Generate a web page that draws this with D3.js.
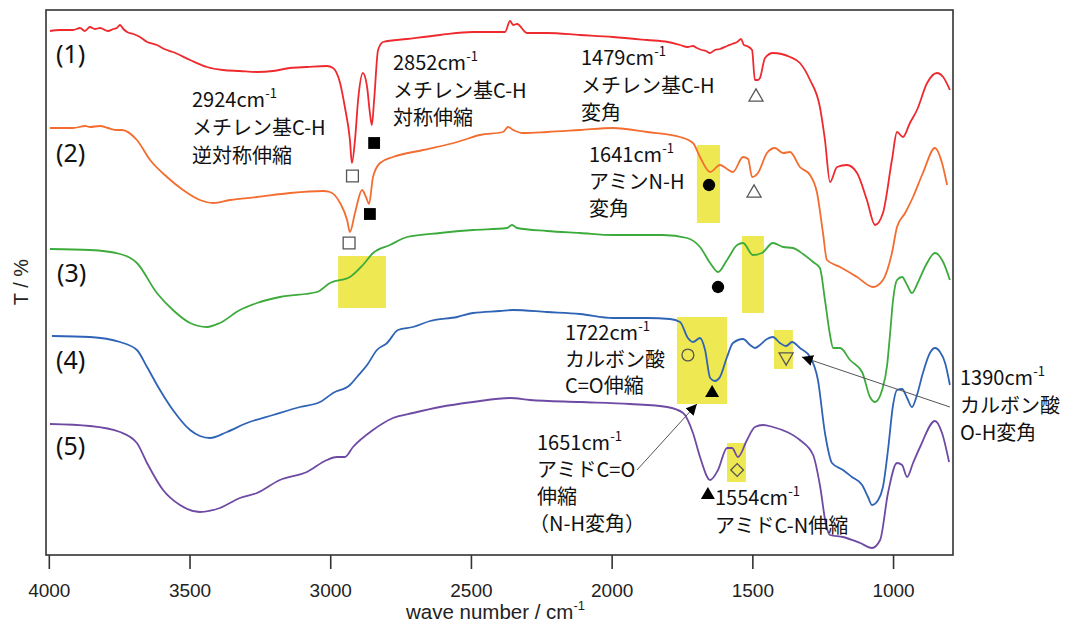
<!DOCTYPE html>
<html><head><meta charset="utf-8">
<script src="https://cdn.jsdelivr.net/npm/d3@7"></script>
<style>body{margin:0;background:#fff} svg{display:block}</style>
</head><body><svg id="c" width="1072" height="625"></svg>
<script>
// ---------------- data ----------------
const xTicks = [4000, 3500, 3000, 2500, 2000, 1500, 1000];
const seriesNames = ["(1)", "(2)", "(3)", "(4)", "(5)"];
// [wavenumber (cm-1), transmittance with vertical offset (a.u.)]
const s1 = [[3996,524],[3960,525],[3914,525],[3889,527],[3872,524],[3854,528],[3836,526],[3818,527],[3790,524],[3770,526],[3758,527],[3747,530],[3735,526],[3722,523],[3700,521],[3676,518],[3650,513],[3616,510],[3590,506],[3559,503],[3498,495],[3438,488],[3381,485],[3321,484],[3260,483],[3203,484],[3143,487],[3083,488],[3012,489],[2990,487],[2965,472],[2948,448],[2930,415],[2923,392],[2912,415],[2901,455],[2884,482],[2869,468],[2859,442],[2852,430],[2844,455],[2830,505],[2812,513],[2727,516],[2610,520],[2493,523],[2379,523],[2361,534],[2350,530],[2336,531],[2301,522],[2230,522],[2112,520],[1995,518],[1874,515],[1800,513],[1757,510],[1730,508],[1711,509],[1697,507],[1680,505],[1665,504],[1650,502],[1633,505],[1615,506],[1590,509],[1572,511],[1554,513],[1540,516],[1530,510],[1519,509],[1501,505],[1491,475],[1480,475],[1473,477],[1455,497],[1427,502],[1366,498],[1331,492],[1295,475],[1260,448],[1242,415],[1224,373],[1199,388],[1164,390],[1128,382],[1093,355],[1064,330],[1036,342],[1004,395],[986,423],[965,418],[940,432],[915,445],[879,472],[844,482],[822,478],[798,465]];
const s2 = [[3996,427],[3914,427],[3870,429],[3854,428],[3818,429],[3790,427],[3758,425],[3740,425],[3687,415],[3640,395],[3580,378],[3523,365],[3463,355],[3417,352],[3356,355],[3260,358],[3143,362],[3026,364],[3001,363],[2965,352],[2940,335],[2930,323],[2912,342],[2887,365],[2873,358],[2862,351],[2848,378],[2823,392],[2777,398],[2670,405],[2549,413],[2468,420],[2386,423],[2368,428],[2350,425],[2315,422],[2230,423],[2112,425],[1995,427],[1874,423],[1757,418],[1711,412],[1686,398],[1650,383],[1615,390],[1590,386],[1569,383],[1533,398],[1515,396],[1501,378],[1480,382],[1448,402],[1420,407],[1391,402],[1366,403],[1331,388],[1295,380],[1270,362],[1249,322],[1235,295],[1188,288],[1128,278],[1071,268],[1036,275],[1004,302],[986,328],[957,342],[929,358],[894,382],[851,407],[826,392],[808,370]];
const s3 = [[3996,306],[3854,305],[3747,301],[3687,292],[3616,262],[3559,245],[3498,232],[3438,228],[3392,232],[3321,245],[3260,252],[3179,258],[3047,263],[3001,272],[2930,278],[2884,290],[2848,302],[2788,310],[2727,318],[2610,322],[2493,325],[2372,327],[2354,330],[2336,327],[2230,324],[2112,322],[1995,320],[1818,320],[1732,317],[1686,308],[1650,292],[1622,283],[1590,295],[1554,310],[1533,312],[1498,300],[1466,302],[1427,312],[1391,308],[1356,307],[1320,301],[1284,293],[1260,287],[1242,255],[1224,220],[1213,207],[1188,207],[1153,195],[1110,183],[1082,158],[1064,153],[1039,165],[1021,190],[1011,220],[1000,255],[986,275],[968,278],[950,270],[933,262],[911,273],[883,290],[851,302],[822,293],[798,275]];
const s4 = [[3989,219],[3854,218],[3747,213],[3687,205],[3651,188],[3605,165],[3559,145],[3498,125],[3463,119],[3427,117],[3367,123],[3296,132],[3203,140],[3107,148],[3036,153],[2990,162],[2930,170],[2905,178],[2869,190],[2834,205],[2798,212],[2759,225],[2706,228],[2645,234],[2549,238],[2493,242],[2397,244],[2350,245],[2230,243],[2112,241],[1995,237],[1874,237],[1793,236],[1757,233],[1729,217],[1711,213],[1686,217],[1668,205],[1650,177],[1633,174],[1615,178],[1590,198],[1569,212],[1533,216],[1508,210],[1491,207],[1473,210],[1448,216],[1427,218],[1402,212],[1380,209],[1359,213],[1331,207],[1295,198],[1267,175],[1242,122],[1217,92],[1178,85],[1146,78],[1110,70],[1089,58],[1075,50],[1053,55],[1036,68],[1018,105],[1000,150],[986,165],[968,166],[950,157],[933,148],[915,160],[894,182],[869,202],[851,207],[833,203],[815,192],[798,170]];
const s5 = [[3996,131],[3854,129],[3747,123],[3687,112],[3651,92],[3594,65],[3534,50],[3463,43],[3392,47],[3321,57],[3260,62],[3179,75],[3083,83],[3012,95],[2976,98],[2948,98],[2919,108],[2848,125],[2777,137],[2706,142],[2610,148],[2493,153],[2361,157],[2290,155],[2112,153],[1935,151],[1803,148],[1746,142],[1711,122],[1686,98],[1650,75],[1622,85],[1590,107],[1572,107],[1551,98],[1519,115],[1491,128],[1462,130],[1427,128],[1377,123],[1331,115],[1284,100],[1260,70],[1238,30],[1224,20],[1178,18],[1117,12],[1075,7],[1046,15],[1018,62],[986,92],[968,90],[950,78],[929,92],[904,108],[851,134],[826,122],[801,93]];
const seriesData = [s1, s2, s3, s4, s5];

// band markers: [wavenumber, T]
const markerPos = [[2921,379],[2844,412],[2933,312],[2859,341],[1487,458],[1494,362],[1654,370],[1622,268],[1729,200],[1643,162],[1380,198],[1554,85],[1658,60]];
const markerType = ["openSquare","filledSquare","openSquare","filledSquare","openTriUp","openTriUp","filledCircle","filledCircle","openCircle","filledTriUp","openTriDown","openDiamond","filledTriUp"];
// highlighted bands: [wn from, wn to, T top, T bottom]
const highlights = [[2972,2802,299,247],[1697,1615,410,332],[1537,1459,319,242],[1768,1590,238,151],[1423,1356,225,186],[1590,1523,112,73]];
// arrows: [wn start, T start, wn tip, T tip]
const arrows = [[1910,85,1697,151],[798,148,1324,198]];
// annotation texts
const annoWave = ["2924","2852","1479","1641","1722","1651","1554","1390"];
const annoLines = [
  ["メチレン基C-H","逆対称伸縮"],
  ["メチレン基C-H","対称伸縮"],
  ["メチレン基C-H","変角"],
  ["アミンN-H","変角"],
  ["カルボン酸","C=O伸縮"],
  ["アミドC=O","伸縮","（N-H変角）"],
  ["アミドC-N伸縮"],
  ["カルボン酸","O-H変角"]
];

// ---------------- layout ----------------
const colors = ["#ee2a2e","#f36d30","#3cab3c","#2f63b6","#6e4aa3"];
const L = 46, R = 953, T = 10, B = 555;
const annoPos = [[192,107,28],[393,70,27.5],[581,65,27.5],[589,162,27],[565,340,26.5],[537,450,27],[715,505,27.5],[960,385,27.5]];
const labelPos = [[56,63],[56,162],[57,282],[56,369],[56,455]];

const svg = d3.select("#c");
const x = d3.scaleLinear().domain([4010, 787]).range([L, R]);
const y = d3.scaleLinear().domain([0, 545]).range([B, T]);

// highlights
svg.append("g").selectAll("rect").data(highlights).join("rect")
  .attr("x", d => x(d[0])).attr("y", d => y(d[2]))
  .attr("width", d => x(d[1]) - x(d[0])).attr("height", d => y(d[3]) - y(d[2]))
  .attr("fill", "#eee853");

// curves
const line = d3.line().x(d => x(d[0])).y(d => y(d[1])).curve(d3.curveMonotoneX);
svg.append("g").selectAll("path").data(seriesData).join("path")
  .attr("d", line).attr("fill", "none")
  .attr("stroke", (d, i) => colors[i]).attr("stroke-width", 1.8)
  .attr("stroke-linejoin", "round");

// frame
svg.append("rect").attr("x", L).attr("y", T).attr("width", R - L).attr("height", B - T)
  .attr("fill", "none").attr("stroke", "#333").attr("stroke-width", 1.6);

// x axis
const ax = svg.append("g").attr("transform", `translate(0,${B})`)
  .call(d3.axisBottom(x).tickValues(xTicks).tickSize(14).tickPadding(15).tickFormat(d3.format("d")));
ax.select(".domain").remove();
ax.selectAll(".tick line").attr("stroke", "#333").attr("stroke-width", 1.6);
ax.selectAll(".tick text").attr("font-family", "Liberation Sans, Arial, sans-serif")
  .attr("font-size", 19).attr("fill", "#222");

// axis titles
const xt = svg.append("text").attr("x", (L + R) / 2 - 4).attr("y", 619).attr("text-anchor", "middle")
  .attr("font-family", "Liberation Sans, Arial, sans-serif").attr("font-size", 20.5).attr("fill", "#222");
xt.append("tspan").text("wave number / cm");
xt.append("tspan").attr("dy", -9).attr("font-size", 13).text("-1");
svg.append("text").attr("transform", "translate(28,282) rotate(-90)").attr("text-anchor", "middle")
  .attr("font-family", "Liberation Sans, Arial, sans-serif").attr("font-size", 20).attr("fill", "#222")
  .text("T / %");

// series labels
svg.append("g").selectAll("text").data(seriesNames).join("text")
  .attr("x", (d, i) => labelPos[i][0]).attr("y", (d, i) => labelPos[i][1])
  .attr("font-family", "Noto Sans, sans-serif").attr("font-size", 25).attr("fill", "#111")
  .text(d => d);

// markers
const sym = {
  openSquare: d3.symbol(d3.symbolSquare, 140)(),
  filledSquare: d3.symbol(d3.symbolSquare, 140)(),
  openCircle: d3.symbol(d3.symbolCircle, 110)(),
  filledCircle: d3.symbol(d3.symbolCircle, 120)(),
  openTriUp: d3.symbol(d3.symbolTriangle, 85)(),
  filledTriUp: d3.symbol(d3.symbolTriangle, 85)(),
  openTriDown: d3.symbol(d3.symbolTriangle, 85)(),
  openDiamond: d3.symbol(d3.symbolSquare, 80)()
};
svg.append("g").selectAll("path").data(markerPos).join("path")
  .attr("d", (d, i) => sym[markerType[i]])
  .attr("transform", (d, i) => {
    const t = markerType[i];
    const rot = t === "openTriDown" ? 180 : t === "openDiamond" ? 45 : 0;
    return `translate(${x(d[0])},${y(d[1])}) rotate(${rot})`;
  })
  .attr("fill", (d, i) => markerType[i].startsWith("filled") ? "#000" : "#fff")
  .attr("fill-opacity", (d, i) => markerType[i].startsWith("filled") ? 1 : 0)
  .attr("stroke", (d, i) => markerType[i].startsWith("filled") ? "none" : "#555")
  .attr("stroke-width", 1.3);

// arrows
svg.append("defs").append("marker").attr("id", "ah").attr("viewBox", "0 0 10 10")
  .attr("refX", 10).attr("refY", 5).attr("markerWidth", 11).attr("markerHeight", 11)
  .attr("markerUnits", "userSpaceOnUse").attr("orient", "auto")
  .append("path").attr("d", "M0,0 L10,5 L0,10 Z").attr("fill", "#000");
svg.append("g").selectAll("line").data(arrows).join("line")
  .attr("x1", d => x(d[0])).attr("y1", d => y(d[1]))
  .attr("x2", d => x(d[2])).attr("y2", d => y(d[3]))
  .attr("stroke", "#555").attr("stroke-width", 1).attr("marker-end", "url(#ah)");

// annotations
const ag = svg.append("g").attr("font-family", "Noto Sans CJK JP, sans-serif")
  .attr("font-size", 20).attr("fill", "#111");
annoWave.forEach((w, i) => {
  const [px, py, lh] = annoPos[i];
  const t0 = ag.append("text").attr("x", px).attr("y", py);
  t0.append("tspan").text(w + "cm");
  t0.append("tspan").attr("dy", -9).attr("font-size", 13).text("-1");
  annoLines[i].forEach((s, j) => {
    const shift = s.startsWith("（") ? -8 : 0;
    ag.append("text").attr("x", px + shift).attr("y", py + lh * (j + 1)).text(s);
  });
});
</script></body></html>
